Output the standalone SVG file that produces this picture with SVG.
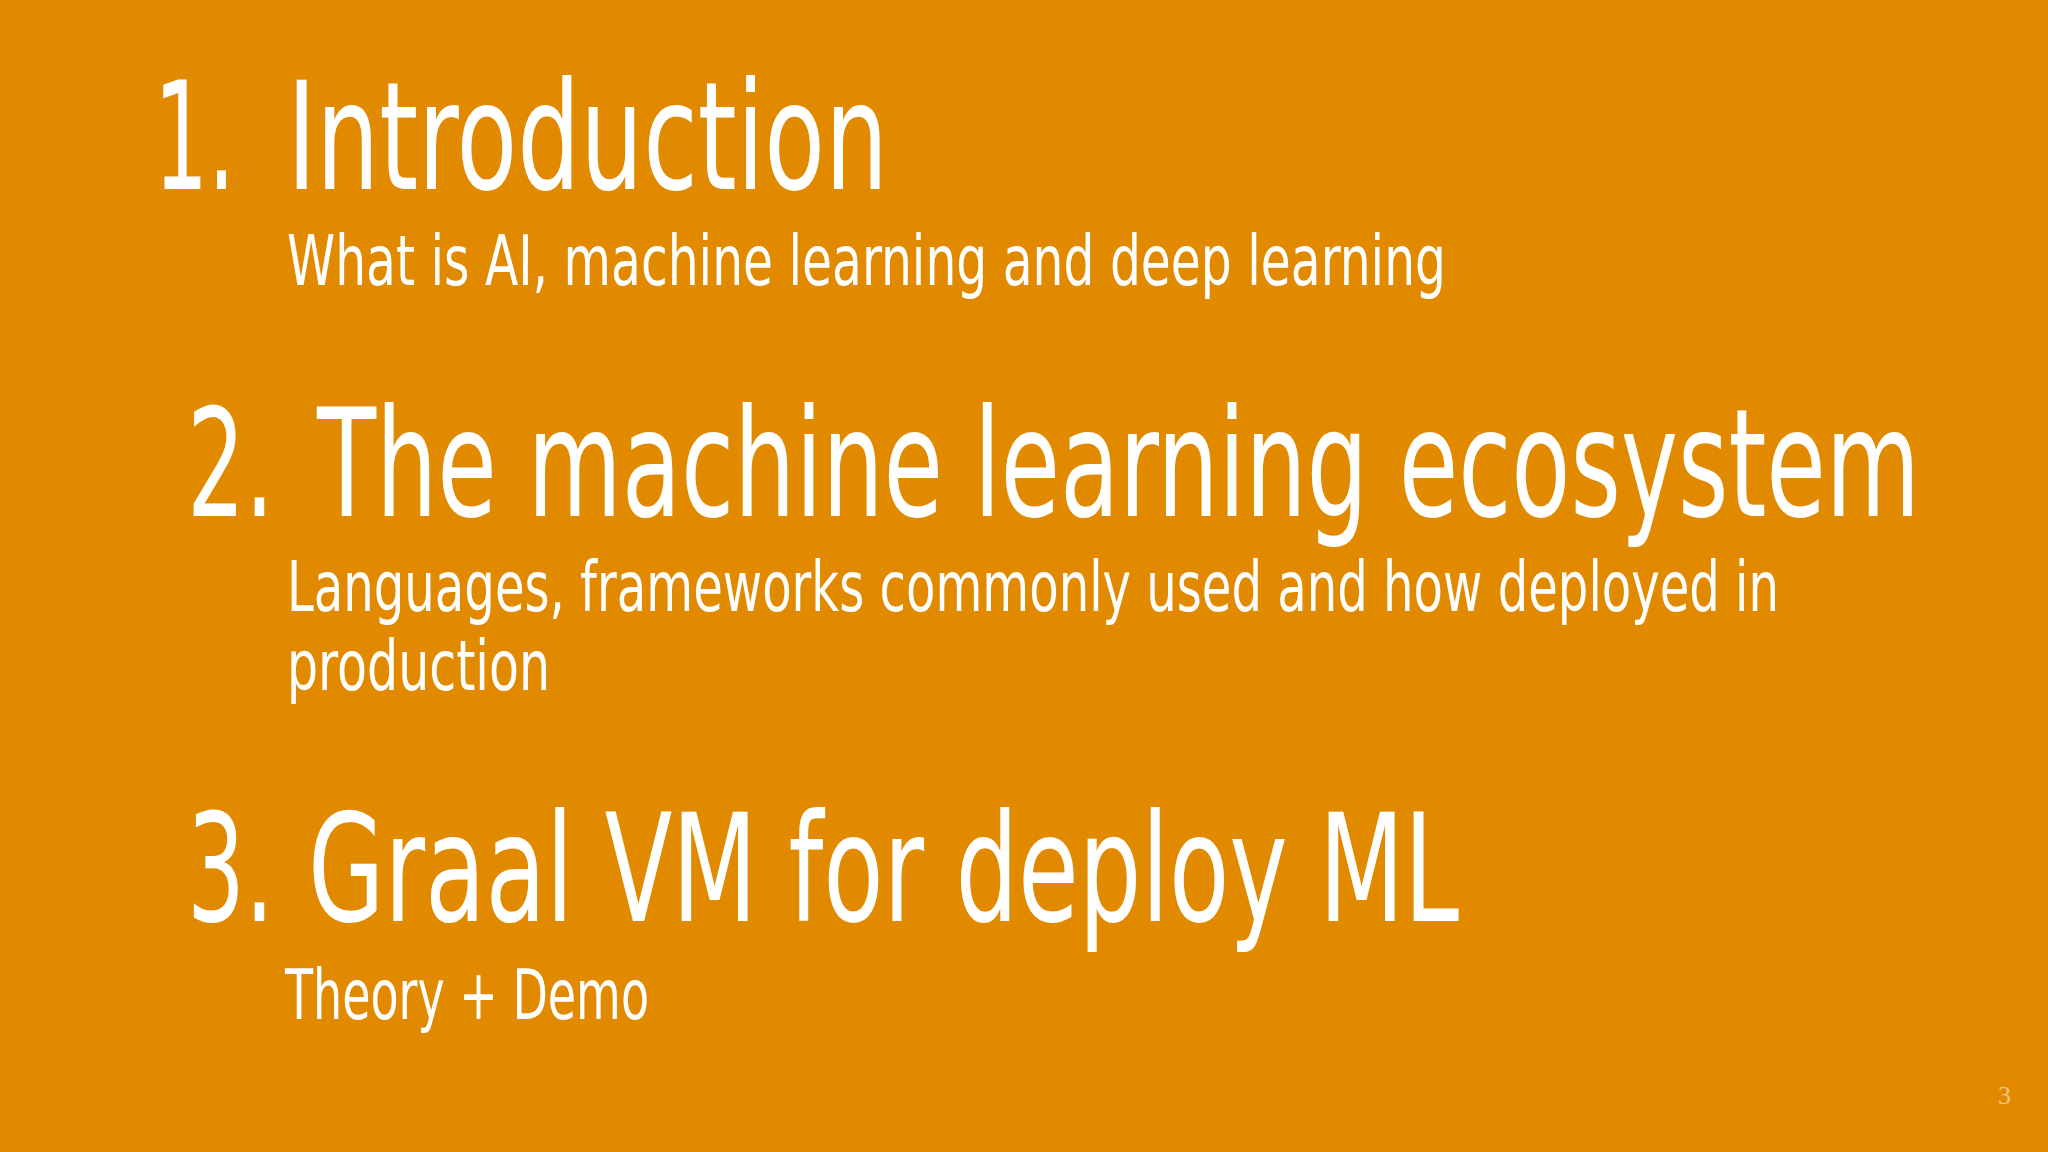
<svg xmlns="http://www.w3.org/2000/svg" width="2048" height="1152" viewBox="0 0 2048 1152">
<style>
.h{font-family:"DejaVu Sans Condensed","Liberation Sans",sans-serif;font-size:150px;fill:#fff}
.s{font-family:"DejaVu Sans Condensed","Liberation Sans",sans-serif;font-size:70px;fill:#fff}
</style>
<rect width="2048" height="1152" fill="#E18A00"/>
<g id="item1">
<text class="h" x="154" y="189" textLength="81" lengthAdjust="spacingAndGlyphs">1.</text>
<text class="h" x="287" y="189" textLength="601" lengthAdjust="spacingAndGlyphs">Introduction</text>
<text class="s" x="287" y="285" textLength="1159" lengthAdjust="spacingAndGlyphs">What is AI, machine learning and deep learning</text>
</g>
<g id="item2">
<text class="h" x="187" y="516" textLength="87" lengthAdjust="spacingAndGlyphs">2.</text>
<text class="h" x="317" y="516" textLength="1603" lengthAdjust="spacingAndGlyphs">The machine learning ecosystem</text>
<text class="s" x="287" y="611" textLength="1492" lengthAdjust="spacingAndGlyphs">Languages, frameworks commonly used and how deployed in</text>
<text class="s" x="287" y="690" textLength="263" lengthAdjust="spacingAndGlyphs">production</text>
</g>
<g id="item3">
<text class="h" x="187" y="921" textLength="87" lengthAdjust="spacingAndGlyphs">3.</text>
<text class="h" x="308" y="921" textLength="1151" lengthAdjust="spacingAndGlyphs">Graal VM for deploy ML</text>
<text class="s" x="285" y="1019" textLength="364" lengthAdjust="spacingAndGlyphs">Theory + Demo</text>
</g>
<text x="1998" y="1104" font-family="Liberation Serif,serif" font-size="26" fill="#f3c680">3</text>
</svg>
